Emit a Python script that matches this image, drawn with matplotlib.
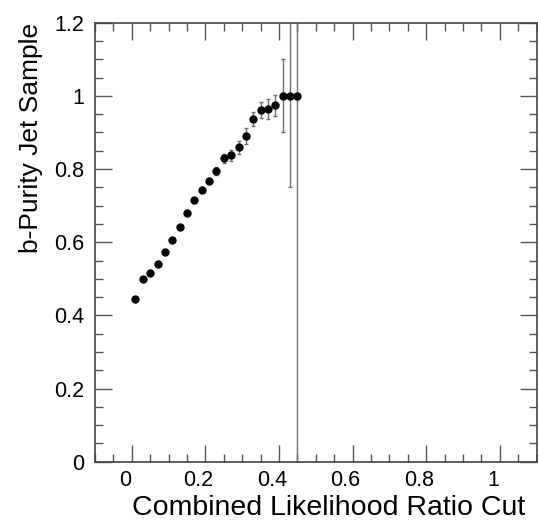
import matplotlib
matplotlib.use("Agg")
from matplotlib import pyplot as plt
from matplotlib.ticker import MultipleLocator
from matplotlib.transforms import ScaledTranslation

plt.rcParams['font.family'] = ['Liberation Sans', 'DejaVu Sans']

# likelihood ratio cut values and purity
cut = [0.01, 0.03, 0.05, 0.07, 0.09, 0.11, 0.13, 0.15, 0.17, 0.19, 0.21, 0.23,
       0.25, 0.27, 0.29, 0.31, 0.33, 0.35, 0.37, 0.39, 0.41, 0.43, 0.45]
purity = [0.444, 0.499, 0.516, 0.540, 0.573, 0.607, 0.642, 0.681, 0.715, 0.743,
          0.767, 0.795, 0.829, 0.838, 0.860, 0.891, 0.937, 0.961, 0.965, 0.974,
          1.0, 1.0, 1.0]
purity_err = [0.004, 0.004, 0.004, 0.005, 0.005, 0.005, 0.006, 0.006, 0.007, 0.007,
              0.008, 0.010, 0.012, 0.015, 0.018, 0.022, 0.020, 0.021, 0.027, 0.029,
              0.10, 0.25, 1.0]

fig = plt.figure(figsize=(5.38, 5.2), dpi=100)
ax = fig.add_axes([0.1766, 0.1121, 0.8210, 0.8442])

ax.errorbar(cut, purity, yerr=purity_err, fmt='o', color='black', markersize=5,
            ecolor='#707070', elinewidth=1, capsize=1.6, capthick=1)

ax.set_xlim(-0.1, 1.1)
ax.set_ylim(0, 1.2)

ax.xaxis.set_major_locator(MultipleLocator(0.2))
ax.xaxis.set_minor_locator(MultipleLocator(0.05))
ax.yaxis.set_major_locator(MultipleLocator(0.2))
ax.yaxis.set_minor_locator(MultipleLocator(0.05))
ax.xaxis.set_major_formatter(plt.FuncFormatter(lambda v, p: ('%g' % round(v, 2))))
ax.yaxis.set_major_formatter(plt.FuncFormatter(lambda v, p: ('%g' % round(v, 2))))

ax.tick_params(which='both', direction='in', top=True, right=True, labelsize=15.5,
               color='#555555')
ax.tick_params(which='major', length=12, width=1)
ax.tick_params(which='minor', length=6, width=1)
ax.tick_params(axis='x', pad=6)
ax.tick_params(axis='y', pad=8)

for lbl in ax.get_xticklabels():
    lbl.set_transform(lbl.get_transform() + ScaledTranslation(-0.07, 0, fig.dpi_scale_trans))

for s in ax.spines.values():
    s.set_color('#444444')
    s.set_linewidth(1.2)

ax.set_xlabel('Combined Likelihood Ratio Cut', fontsize=20.5, ha='right')
ax.xaxis.set_label_coords(0.973, -0.076)
ax.set_ylabel('b-Purity Jet Sample', fontsize=19, ha='right')
ax.yaxis.set_label_coords(-0.118, 1.0)

fig.savefig('out.png', dpi=100)
